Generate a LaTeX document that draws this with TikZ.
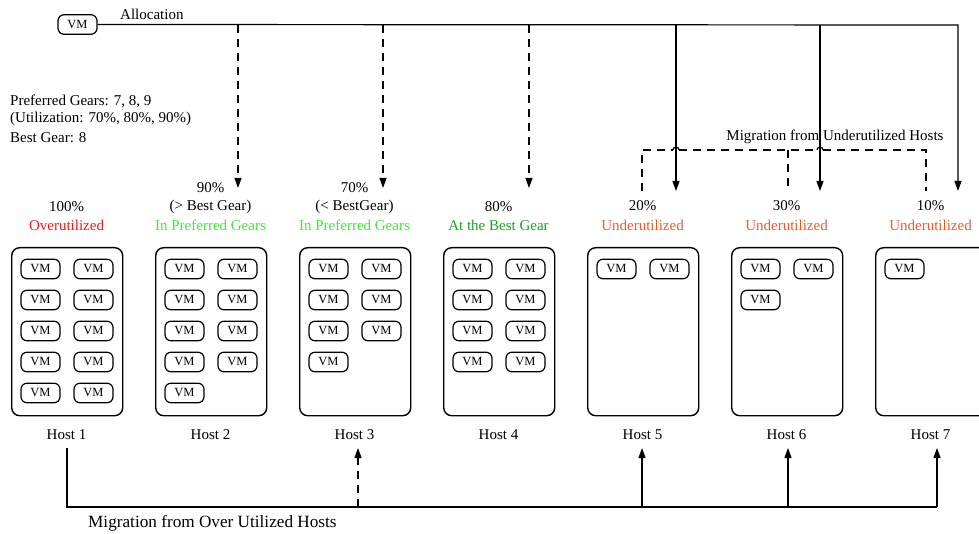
\documentclass[tikz,border=0pt]{standalone}
\usepackage{fontspec}
\setmainfont{Liberation Serif}
\usetikzlibrary{arrows.meta}
\definecolor{overred}{RGB}{250,20,20}
\definecolor{prefgreen}{RGB}{60,235,50}
\definecolor{bestgreen}{RGB}{20,165,30}
\definecolor{underorange}{RGB}{232,92,42}
\begin{document}
\begin{tikzpicture}[x=1pt,y=-1pt,
  hostbox/.style={draw, line width=1.4pt, rounded corners=8pt, minimum width=111pt,
    minimum height=168pt, inner sep=0pt, anchor=north west},
  vmbox/.style={draw, line width=1.2pt, rounded corners=6pt, minimum width=39pt,
    minimum height=19.5pt, inner sep=0pt, font=\fontsize{12.5}{14}\selectfont},
  lbl/.style={inner sep=0pt, font=\fontsize{15}{18}\selectfont},
  link/.style={line width=1.2pt},
  dlink/.style={link, dash pattern=on 8pt off 6pt},
  tip/.style={-{Triangle[length=10pt,width=7pt]}}]
\useasboundingbox (0,0) rectangle (979,534);

% allocation source
\node[vmbox] (src) at (77.5,24.5) {VM};
\node[lbl, anchor=west] (alloc) at (120,14) {Allocation};

% gear notes
\node[lbl, anchor=west] (g1) at (10,101) {Preferred Gears: 7, 8, 9};
\node[lbl, anchor=west] (g2) at (10,119) {(Utilization: 70\%, 80\%, 90\%)};
\node[lbl, anchor=west] (g3) at (10,138) {Best Gear: 8};

% hosts and their VMs
\foreach \i/\n in {1/10,2/9,3/7,4/8,5/2,6/3,7/1}{
  \pgfmathsetmacro{\hx}{11+144*(\i-1)}
  \node[hostbox] (h\i) at (\hx,247) {};
  \node[lbl] (hl\i) at (\hx+55.5,435) {Host \i};
  \foreach \k in {1,...,\n}{
    \pgfmathsetmacro{\vx}{\hx+29.5+53*mod(\k-1,2)}
    \pgfmathsetmacro{\vy}{269+31*floor((\k-1)/2)}
    \node[vmbox] (h\i v\k) at (\vx,\vy) {VM};
  }
}

% utilisation labels
\node[lbl] (u1a) at (66.5,207) {100\%};
\node[lbl, text=overred] (u1b) at (66.5,225) {Overutilized};
\node[lbl] (u2a) at (210.5,188) {90\%};
\node[lbl] (u2b) at (210.5,207) {(> Best Gear)};
\node[lbl, text=prefgreen] (u2c) at (210.5,225) {In Preferred Gears};
\node[lbl] (u3a) at (354.5,188) {70\%};
\node[lbl] (u3b) at (354.5,207) {(< BestGear)};
\node[lbl, text=prefgreen] (u3c) at (354.5,225) {In Preferred Gears};
\node[lbl] (u4a) at (498.5,207) {80\%};
\node[lbl, text=bestgreen] (u4b) at (498.5,225) {At the Best Gear};
\node[lbl] (u5a) at (642.5,206) {20\%};
\node[lbl, text=underorange] (u5b) at (642.5,225) {Underutilized};
\node[lbl] (u6a) at (786.5,206) {30\%};
\node[lbl, text=underorange] (u6b) at (786.5,225) {Underutilized};
\node[lbl] (u7a) at (930.5,206) {10\%};
\node[lbl, text=underorange] (u7b) at (930.5,225) {Underutilized};

% allocation arrows
\coordinate (a2) at (238,25);  \coordinate (t2) at (238,188);
\coordinate (a3) at (383,25);  \coordinate (t3) at (383,188);
\coordinate (a4) at (529,25);  \coordinate (t4) at (529,188);
\coordinate (a5) at (676,25);  \coordinate (t5) at (676,191);
\coordinate (a6) at (820,25);  \coordinate (t6) at (820,191);
\coordinate (a7) at (958,25);  \coordinate (t7) at (958,191);
\draw[link, tip] (src.east) -- (a7) -- (t7);
\draw[link, tip] (a5) -- (t5);
\draw[link, tip] (a6) -- (t6);
\draw[dlink, tip] (a2) -- (t2);
\draw[dlink, tip] (a3) -- (t3);
\draw[dlink, tip] (a4) -- (t4);

% migration from underutilized hosts
\node[lbl] (mu) at (835,137) {Migration from Underutilized Hosts};
\coordinate (m5) at (642,150); \coordinate (m5b) at (642,191);
\coordinate (m6) at (788,150); \coordinate (m6b) at (788,191);
\coordinate (m7) at (926,150); \coordinate (m7b) at (926,191);
\coordinate (hop5a) at (673,150); \coordinate (hop5b) at (679,150);
\coordinate (hop6a) at (817,150); \coordinate (hop6b) at (823,150);
\draw[dlink] (m5b) -- (m5) -- (hop5a);
\draw[link] (hop5a) arc[start angle=180, end angle=360, radius=3];
\draw[dlink] (hop5b) -- (hop6a);
\draw[link] (hop6a) arc[start angle=180, end angle=360, radius=3];
\draw[dlink] (hop6b) -- (m7) -- (m7b);
\draw[dlink] (m6) -- (m6b);

% migration from overutilized hosts
\coordinate (b1) at (67,448);  \coordinate (b7d) at (937,507);
\coordinate (b3) at (358,448); \coordinate (b3d) at (358,507);
\coordinate (b5) at (642,448); \coordinate (b5d) at (642,507);
\coordinate (b6) at (788,448); \coordinate (b6d) at (788,507);
\coordinate (b7) at (937,448);
\draw[link] (b1) |- (b7d);
\draw[dlink, tip] (b3d) -- (b3);
\draw[link, tip] (b5d) -- (b5);
\draw[link, tip] (b6d) -- (b6);
\draw[link, tip] (b7d) -- (b7);
\node[lbl, anchor=west, font=\fontsize{17.2}{19}\selectfont] (mo) at (88,523)
  {Migration from Over Utilized Hosts};
\end{tikzpicture}
\end{document}
